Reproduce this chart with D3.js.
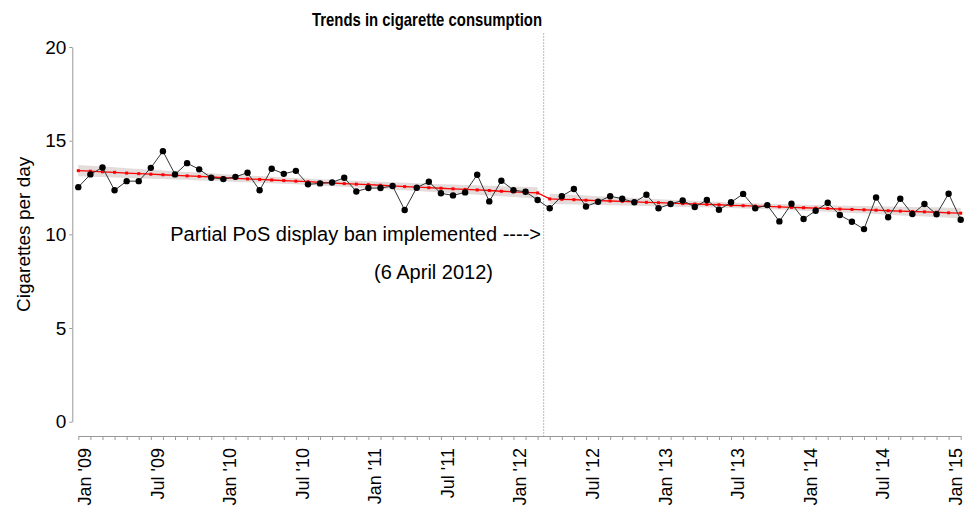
<html>
<head>
<meta charset="utf-8">
<script src="https://cdn.jsdelivr.net/npm/d3@7"></script>
<style>
  body { margin: 0; background: #fff; }
  text { font-family: "Liberation Sans", Arial, sans-serif; }
</style>
</head>
<body>
<script>
// monthly mean cigarettes per day, Jan 2009 - Feb 2015
var cigsPerDay = [
  12.52, 13.20, 13.57, 12.35, 12.84, 12.84, 13.55, 14.44, 13.20, 13.80, 13.47, 13.02,
  12.95, 13.07, 13.29, 12.35, 13.50, 13.23, 13.39, 12.67, 12.72, 12.77, 13.02, 12.29,
  12.47, 12.47, 12.58, 11.30, 12.49, 12.81, 12.19, 12.08, 12.24, 13.18, 11.76, 12.86,
  12.36, 12.27, 11.83, 11.39, 12.04, 12.42, 11.49, 11.74, 12.04, 11.90, 11.71, 12.11,
  11.39, 11.62, 11.81, 11.46, 11.83, 11.31, 11.71, 12.16, 11.39, 11.56, 10.69, 11.63,
  10.82, 11.26, 11.69, 11.03, 10.67, 10.28, 11.97, 10.91, 11.90, 11.08, 11.62, 11.07,
  12.17, 10.78
];

// segmented regression fit (red)
var fitted = [
  13.40, 13.37, 13.34, 13.31, 13.27, 13.24, 13.21, 13.18, 13.15, 13.12, 13.09, 13.06,
  13.02, 12.99, 12.96, 12.93, 12.90, 12.87, 12.84, 12.81, 12.77, 12.74, 12.71, 12.68,
  12.65, 12.62, 12.59, 12.55, 12.52, 12.49, 12.46, 12.43, 12.40, 12.37, 12.34, 12.30,
  12.27, 12.24, 12.21, 11.89, 11.87, 11.85, 11.82, 11.80, 11.78, 11.76, 11.73, 11.71,
  11.69, 11.67, 11.64, 11.62, 11.60, 11.58, 11.55, 11.53, 11.51, 11.49, 11.47, 11.44,
  11.42, 11.40, 11.38, 11.35, 11.33, 11.31, 11.29, 11.26, 11.24, 11.22, 11.20, 11.18,
  11.15, 11.13
];

// half width of the grey confidence band
var ciHalf = [
  0.30, 0.29, 0.28, 0.27, 0.26, 0.25, 0.24, 0.23, 0.22, 0.21, 0.21, 0.20,
  0.19, 0.19, 0.18, 0.18, 0.17, 0.17, 0.17, 0.17, 0.17, 0.17, 0.17, 0.18,
  0.18, 0.19, 0.19, 0.20, 0.21, 0.21, 0.22, 0.23, 0.24, 0.25, 0.26, 0.27,
  0.28, 0.29, 0.30, 0.28, 0.27, 0.26, 0.25, 0.24, 0.23, 0.22, 0.21, 0.20,
  0.19, 0.18, 0.18, 0.17, 0.16, 0.16, 0.15, 0.15, 0.15, 0.15, 0.15, 0.16,
  0.16, 0.17, 0.18, 0.18, 0.19, 0.20, 0.21, 0.22, 0.23, 0.24, 0.25, 0.26,
  0.27, 0.28
];

var yTicks = [0, 5, 10, 15, 20];
var xTickLabels = ["Jan '09", "Jul '09", "Jan '10", "Jul '10", "Jan '11", "Jul '11", "Jan '12",
                   "Jul '12", "Jan '13", "Jul '13", "Jan '14", "Jul '14", "Jan '15"];
var banMonth = "2012-04";   // first month after the ban

var fmt = d3.utcFormat("%Y-%m");
var months = d3.utcMonth.range(new Date(Date.UTC(2009, 0, 1)), new Date(Date.UTC(2015, 2, 1))).map(fmt);

var width = 974, height = 507;

var svg = d3.select("body").append("svg")
    .attr("width", width)
    .attr("height", height);

var x = d3.scalePoint().domain(months).range([78.3, 960.7]);
var y = d3.scaleLinear().domain([0, 20]).range([421.7, 47]);

var data = months.map(function (m, i) {
  return { m: m, v: cigsPerDay[i], fit: fitted[i], ci: ciHalf[i] };
});
var breakIdx = months.indexOf(banMonth);
var pre = data.slice(0, breakIdx), post = data.slice(breakIdx);

// title
svg.append("text")
    .attr("x", 427).attr("y", 26)
    .attr("text-anchor", "middle")
    .attr("textLength", 230).attr("lengthAdjust", "spacingAndGlyphs")
    .style("font-size", "19px").style("font-weight", "bold")
    .text("Trends in cigarette consumption");

// y axis
var yAxis = svg.append("g")
    .attr("transform", "translate(72.3,0)")
    .call(d3.axisLeft(y).tickValues(yTicks).tickSize(3).tickSizeOuter(0).tickPadding(3));
yAxis.select(".domain").attr("stroke", "#999");
yAxis.selectAll(".tick line").attr("stroke", "#999");
yAxis.selectAll(".tick text")
    .attr("fill", "#000")
    .style("font-size", "19px")
    .attr("font-family", null);

svg.append("text")
    .attr("transform", "translate(30," + (y(10)) + ") rotate(-90)")
    .attr("text-anchor", "middle")
    .style("font-size", "19px")
    .text("Cigarettes per day");

// x axis, a tick for every month
var xAxis = svg.append("g")
    .attr("transform", "translate(0,436)")
    .call(d3.axisBottom(x).tickSize(4).tickSizeOuter(0).tickFormat(""));
xAxis.select(".domain").attr("stroke", "#999");
xAxis.selectAll(".tick line").attr("stroke", "#999");

svg.append("g").selectAll("text")
    .data(xTickLabels)
    .enter().append("text")
    .attr("transform", function (d, i) {
      return "translate(" + (x(months[i * 6]) + 13) + ",448) rotate(-90)";
    })
    .attr("text-anchor", "end")
    .style("font-size", "18px")
    .text(function (d) { return d; });

// ban line
var banX = (x(months[breakIdx - 1]) + x(months[breakIdx])) / 2;
svg.append("line")
    .attr("x1", banX).attr("x2", banX)
    .attr("y1", 33).attr("y2", 436)
    .attr("stroke", "#bbb")
    .attr("stroke-width", 1)
    .attr("stroke-dasharray", "2,1");

// confidence bands
var band = d3.area()
    .x(function (d) { return x(d.m); })
    .y0(function (d) { return y(d.fit - d.ci); })
    .y1(function (d) { return y(d.fit + d.ci); });

[pre, post].forEach(function (seg) {
  svg.append("path")
      .datum(seg)
      .attr("d", band)
      .attr("fill", "#e4dbdb");
});

// fitted line
svg.append("path")
    .datum(data)
    .attr("d", d3.line().x(function (d) { return x(d.m); }).y(function (d) { return y(d.fit); }))
    .attr("fill", "none")
    .attr("stroke", "#ff0000")
    .attr("stroke-width", 1.3);

svg.append("g").selectAll("rect")
    .data(data)
    .enter().append("rect")
    .attr("x", function (d) { return x(d.m) - 1.5; })
    .attr("y", function (d) { return y(d.fit) - 1.5; })
    .attr("width", 3).attr("height", 3)
    .attr("fill", "#ff0000");

// observed series
svg.append("path")
    .datum(data)
    .attr("d", d3.line().x(function (d) { return x(d.m); }).y(function (d) { return y(d.v); }))
    .attr("fill", "none")
    .attr("stroke", "#333")
    .attr("stroke-width", 1);

svg.append("g").selectAll("circle")
    .data(data)
    .enter().append("circle")
    .attr("cx", function (d) { return x(d.m); })
    .attr("cy", function (d) { return y(d.v); })
    .attr("r", 3.2)
    .attr("fill", "#000");

// annotation
svg.append("text")
    .attr("x", 541).attr("y", 241)
    .attr("text-anchor", "end")
    .style("font-size", "20px")
    .text("Partial PoS display ban implemented ---->");

svg.append("text")
    .attr("x", 493).attr("y", 279)
    .attr("text-anchor", "end")
    .style("font-size", "20px")
    .text("(6 April 2012)");
</script>
</body>
</html>
